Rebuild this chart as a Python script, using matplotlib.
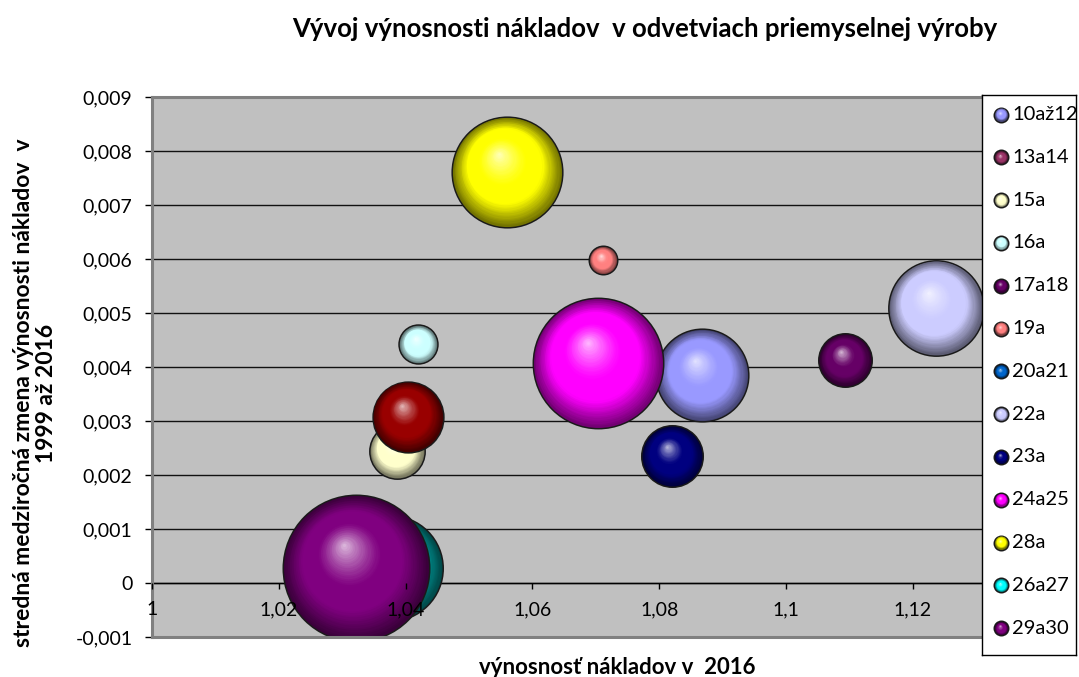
import numpy as np
import matplotlib
matplotlib.use("Agg")
import matplotlib.pyplot as plt
from matplotlib.colors import to_rgb

plt.rcParams['font.family'] = ['Lato', 'DejaVu Sans']

# ---------------- data ----------------
series = ["10až12", "13a14", "15a", "16a", "17a18", "19a", "20a21", "22a",
          "23a", "24a25", "28a", "26a27", "29a30"]
x_vals = [1.0868, 1.0403, 1.0386, 1.0420, 1.1093, 1.0711, 1.0330, 1.1236,
          1.0820, 1.0703, 1.0560, 1.0375, 1.0321]
y_vals = [0.00385, 0.00308, 0.00245, 0.00442, 0.00413, 0.00598, 0.00030, 0.00510,
          0.00235, 0.00408, 0.00762, 0.00028, 0.00028]
bubble_sizes = [83, 48, 29, 14, 27, 7.3, 20, 88, 36, 166, 119, 108, 210]
bubble_colors = ["#9999FF", "#990000", "#FFFFCC", "#CCFFFF", "#660066", "#FF8080",
                 "#0066CC", "#CCCCFF", "#000080", "#FF00FF", "#FFFF00", "#00A0A0",
                 "#800080"]
legend_colors = ["#9999FF", "#993366", "#FFFFCC", "#CCFFFF", "#660066", "#FF8080",
                 "#0066CC", "#CCCCFF", "#000080", "#FF00FF", "#FFFF00", "#00FFFF",
                 "#800080"]
xticks = [1.00, 1.02, 1.04, 1.06, 1.08, 1.10, 1.12]
xtick_labels = ["1", "1,02", "1,04", "1,06", "1,08", "1,1", "1,12"]
yticks = [-0.001, 0, 0.001, 0.002, 0.003, 0.004, 0.005, 0.006, 0.007, 0.008, 0.009]
ytick_labels = ["-0,001", "0", "0,001", "0,002", "0,003", "0,004", "0,005",
                "0,006", "0,007", "0,008", "0,009"]

title = "Vývoj výnosnosti nákladov  v odvetviach priemyselnej výroby"
xlabel = "výnosnosť nákladov v  2016"
ylabel = "stredná medziročná zmena výnosnosti nákladov  v\n1999 až 2016"

# ---------------- figure ----------------
W, H, DPI = 1079, 677, 100
fig = plt.figure(figsize=(W / DPI, H / DPI), dpi=DPI)
ax_l, ax_r, ax_t, ax_b = 152, 982, 97, 637
ax = fig.add_axes([ax_l / W, 1 - ax_b / H, (ax_r - ax_l) / W, (ax_b - ax_t) / H])
ax.set_facecolor("#C0C0C0")
xmin, xmax = 1.0, 1.1309
ymin, ymax = -0.001, 0.009
ax.set_xlim(xmin, xmax)
ax.set_ylim(ymin, ymax)


def pts2(d_px):
    return (d_px * 72.0 / DPI) ** 2


def shade(base, t):
    base = np.array(base)
    if t < 0.30:
        f = 0.45 + 0.55 * (t / 0.30)
        c = base * f
    elif t < 0.55:
        c = base
    else:
        w = ((t - 0.55) / 0.45) ** 1.25 * 0.75
        c = base * (1 - w) + w
    return np.clip(c, 0, 1)


def sphere(axis, x, y, d, color, z, px2x, px2y, edge=3, n=45, clip=True):
    base = to_rgb(color)
    axis.scatter([x], [y], s=pts2(d + edge), color="#1a1a1a", lw=0, zorder=z,
                 clip_on=clip)
    hx, hy = -0.16 * d / 2, 0.32 * d / 2
    for k in range(n):
        t = k / n
        r = d / 2 * (1 - t)
        axis.scatter([x + t * hx * px2x], [y + t * hy * px2y], s=pts2(2 * r),
                     color=shade(base, t), lw=0, zorder=z + 0.001 * (k + 1),
                     clip_on=clip)


px2x = (xmax - xmin) / (ax_r - ax_l)
px2y = (ymax - ymin) / (ax_b - ax_t)
MAX_D = 145.0  # diameter in px of the largest bubble
smax = max(bubble_sizes)
order = np.argsort(bubble_sizes)
for rank, i in enumerate(order):
    d = MAX_D * np.sqrt(bubble_sizes[i] / smax)
    sphere(ax, x_vals[i], y_vals[i], d, bubble_colors[i], 3 + rank, px2x, px2y)

# grid
ax.yaxis.grid(True, color="#111111", lw=1.0)
ax.xaxis.grid(False)
ax.yaxis.set_zorder(0.5)
ax.xaxis.set_zorder(60)

ax.set_xticks(xticks)
ax.set_xticklabels(xtick_labels)
ax.set_yticks(yticks)
ax.set_yticklabels(ytick_labels)
ax.tick_params(axis="x", direction="out", length=4, width=1, color="black",
               labelsize=14, pad=9)
ax.tick_params(axis="y", direction="out", length=5, width=1, color="black",
               labelsize=14, pad=9)

ax.spines["bottom"].set_position(("data", 0))
ax.spines["bottom"].set_color("black")
ax.spines["bottom"].set_linewidth(1.0)
ax.spines["bottom"].set_zorder(1)
for s in ["left", "top"]:
    ax.spines[s].set_color("#808080")
    ax.spines[s].set_linewidth(2.2)
ax.spines["right"].set_visible(False)
ax.plot([0, 1], [0, 0], transform=ax.transAxes, color="#808080", lw=2.2,
        clip_on=False, zorder=70)

fig.text(645 / W, 1 - 29 / H, title, ha="center", va="center",
         fontsize=18.5, fontweight="bold")
fig.text(617 / W, 1 - 667 / H, xlabel, ha="center", va="center",
         fontsize=16, fontweight="bold")
fig.text(35 / W, 1 - 393 / H, ylabel, ha="center", va="center",
         fontsize=16.5, fontweight="bold", rotation=90, linespacing=1.1)

# ---------------- legend (pixel-coordinate box) ----------------
lg_l, lg_r, lg_t, lg_b = 982, 1076, 95, 655
lax = fig.add_axes([lg_l / W, 1 - lg_b / H, (lg_r - lg_l) / W, (lg_b - lg_t) / H],
                   zorder=10)
lax.set_xlim(0, lg_r - lg_l)
lax.set_ylim(lg_b - lg_t, 0)
lax.set_facecolor("white")
lax.set_xticks([])
lax.set_yticks([])
for s in lax.spines.values():
    s.set_color("black")
    s.set_linewidth(1.0)
row0, row_step = 19.5, 42.8
for j, (name, col) in enumerate(zip(series, legend_colors)):
    yy = row0 + j * row_step
    sphere(lax, 19, yy, 13, col, 3, 1.0, -1.0, edge=3, n=14, clip=False)
    lax.text(30, yy, name, ha="left", va="center", fontsize=14.5)

fig.savefig("out.png", dpi=DPI)
